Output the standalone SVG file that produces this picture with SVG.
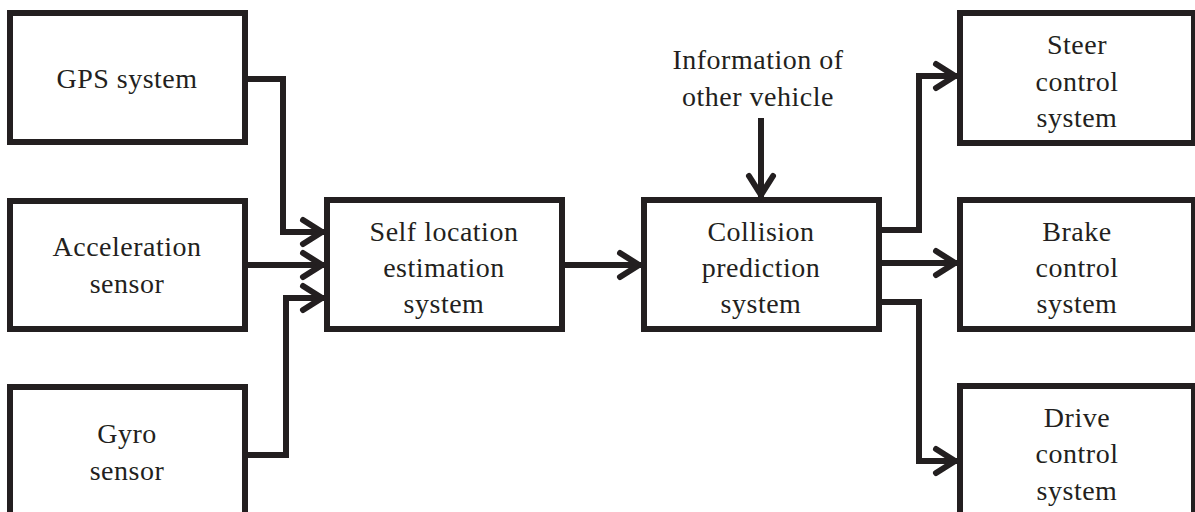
<svg xmlns="http://www.w3.org/2000/svg" width="1195" height="512" viewBox="0 0 1195 512">
  <style>
    .box { fill: #ffffff; stroke: #231f20; stroke-width: 6; }
    .lbl { font-family: "Liberation Serif", "Times New Roman", serif; font-size: 28px; letter-spacing: 0.5px; fill: #231f20; text-anchor: middle; }
    .wire { fill: none; stroke: #231f20; stroke-width: 6; stroke-linejoin: miter; marker-end: url(#chevron); }
  </style>
  <defs>
    <marker id="chevron" markerUnits="userSpaceOnUse" markerWidth="40" markerHeight="40" refX="30" refY="20" orient="auto" overflow="visible">
      <path d="M9,8 L28,20 L9,32" fill="none" stroke="#231f20" stroke-width="6" stroke-linecap="round" stroke-linejoin="miter"/>
    </marker>
  </defs>
  <rect width="1195" height="512" fill="#ffffff"/>

  <!-- sensors -->
  <g id="gps">
    <rect class="box" x="10" y="13" width="235" height="129"/>
    <text class="lbl" x="127" y="88">GPS system</text>
  </g>
  <g id="accel">
    <rect class="box" x="10" y="201" width="235" height="128"/>
    <text class="lbl" x="127" y="256">Acceleration</text>
    <text class="lbl" x="127" y="293">sensor</text>
  </g>
  <g id="gyro">
    <rect class="box" x="10" y="387" width="235" height="140"/>
    <text class="lbl" x="127" y="443">Gyro</text>
    <text class="lbl" x="127" y="480">sensor</text>
  </g>

  <!-- processing -->
  <g id="self-location">
    <rect class="box" x="327" y="200" width="235" height="129"/>
    <text class="lbl" x="444" y="241">Self location</text>
    <text class="lbl" x="444" y="277">estimation</text>
    <text class="lbl" x="444" y="313">system</text>
  </g>
  <g id="collision">
    <rect class="box" x="644" y="200" width="235" height="129"/>
    <text class="lbl" x="761" y="241">Collision</text>
    <text class="lbl" x="761" y="277">prediction</text>
    <text class="lbl" x="761" y="313">system</text>
  </g>
  <g id="other-vehicle">
    <text class="lbl" x="758" y="69">Information of</text>
    <text class="lbl" x="758" y="106">other vehicle</text>
  </g>

  <!-- actuators -->
  <g id="steer">
    <rect class="box" x="960" y="13" width="234" height="130"/>
    <text class="lbl" x="1077" y="54">Steer</text>
    <text class="lbl" x="1077" y="91">control</text>
    <text class="lbl" x="1077" y="127">system</text>
  </g>
  <g id="brake">
    <rect class="box" x="960" y="200" width="234" height="129"/>
    <text class="lbl" x="1077" y="241">Brake</text>
    <text class="lbl" x="1077" y="277">control</text>
    <text class="lbl" x="1077" y="313">system</text>
  </g>
  <g id="drive">
    <rect class="box" x="960" y="386" width="234" height="140"/>
    <text class="lbl" x="1077" y="427">Drive</text>
    <text class="lbl" x="1077" y="463">control</text>
    <text class="lbl" x="1077" y="500">system</text>
  </g>

  <!-- connectors -->
  <g id="connectors">
    <path class="wire" d="M245,79 H283 V232 H324"/>
    <path class="wire" d="M245,265 H324"/>
    <path class="wire" d="M245,455 H286 V298 H324"/>
    <path class="wire" d="M562,265 H641"/>
    <path class="wire" d="M761,118 V197"/>
    <path class="wire" d="M879,230 H919 V76 H957"/>
    <path class="wire" d="M879,263 H957"/>
    <path class="wire" d="M879,302 H919 V461 H957"/>
  </g>
</svg>
